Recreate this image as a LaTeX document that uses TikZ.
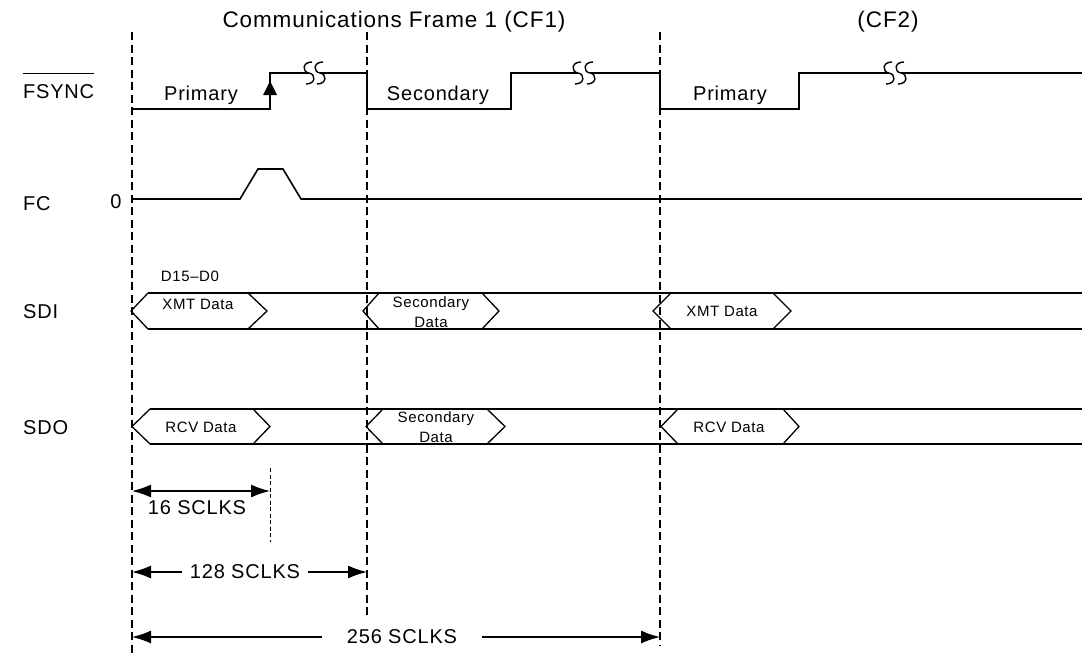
\documentclass[tikz,border=0pt]{standalone}
\usepackage{fontspec}
\setmainfont[LetterSpace=4]{Liberation Sans}
\usetikzlibrary{arrows.meta}
\begin{document}
\begin{tikzpicture}[x=1pt,y=-1pt,
  sig/.style={line width=1.6pt, line join=miter},
  bus/.style={line width=1.3pt},
  framel/.style={line width=1.6pt, dash pattern=on 8pt off 4.5pt},
  dimarrow/.style={line width=1.5pt, {Latex[length=19pt,width=13pt]}-{Latex[length=19pt,width=13pt]}},
  lbl/.style={font=\fontsize{20}{24}\selectfont, anchor=base west, inner sep=0pt},
  ttl/.style={font=\fontsize{22.5}{26}\selectfont, anchor=base, inner sep=0pt},
  phase/.style={font=\fontsize{20}{24}\selectfont, anchor=base, inner sep=0pt},
  hx/.style={font=\fontsize{15}{20}\selectfont, inner sep=0pt, align=center},
  sc/.style={font=\fontsize{20}{24}\selectfont, inner sep=0pt},
  brk/.pic={\draw[line width=1.4pt] (3,-11) .. controls (-7,-11) and (-7,-1) .. (0,0) .. controls (7,1) and (7,11) .. (-3,11);}
]
\useasboundingbox (0,0) rectangle (1082,654);

% frame boundaries
\coordinate (f0t) at (132,32); \coordinate (f0b) at (132,654);
\coordinate (f1t) at (367,32); \coordinate (f1b) at (367,618);
\coordinate (f2t) at (660,32); \coordinate (f2b) at (660,645);
\draw[framel] (f0t) -- (f0b);
\draw[framel] (f1t) -- (f1b);
\draw[framel] (f2t) -- (f2b);

% titles
\node[ttl] (cf1) at (394,27) {Communications Frame 1 (CF1)};
\node[ttl] (cf2) at (888,27) {(CF2)};

% signal labels
\node[lbl] (fs) at (23,98) {FSYNC};
\draw[line width=1.3pt] ([yshift=10pt]fs.north west) -- ([yshift=10pt]fs.north east);
\node[lbl] (fc) at (23,210) {FC};
\node[lbl] (sdi) at (23,318) {SDI};
\node[lbl] (sdo) at (23,434) {SDO};
\node[sc] (zero) at (116,202) {0};

% FSYNC
\draw[sig] (132,109) -- (270,109) -- (270,73) -- (309,73);
\draw[sig] (320,73) -- (367,73) -- (367,109) -- (511,109) -- (511,73) -- (578,73);
\draw[sig] (590,73) -- (660,73) -- (660,109) -- (799,109) -- (799,73) -- (889,73);
\draw[sig] (901,73) -- (1082,73);
\fill (270,81) -- (263,95) -- (277,95) -- cycle;
\pic at (309,73) {brk}; \pic at (320,73) {brk};
\pic at (578,73) {brk}; \pic at (590,73) {brk};
\pic at (889,73) {brk}; \pic at (901,73) {brk};
\node[phase] (p1) at (201,100) {Primary};
\node[phase] (s1) at (438,100) {Secondary};
\node[phase] (p2) at (730,100) {Primary};

% FC
\draw[sig] (132,199) -- (240,199) -- (258,169) -- (283,169) -- (301,199) -- (1082,199);

% SDI
\node[hx] (dd) at (190,276) {D15--D0};
\draw[bus] (148,293) -- (1082,293);
\draw[bus] (148,329) -- (1082,329);
\foreach \a/\b/\c/\d in {131/148/248/267, 363/379/482/499, 653/671/773/791}{
  \draw[bus] (\b,293) -- (\a,311) -- (\b,329);
  \draw[bus] (\c,293) -- (\d,311) -- (\c,329);
}
\node[hx] (xmt1) at (198,304) {XMT Data};
\node[hx] (sec1) at (431,312) {Secondary\\Data};
\node[hx] (xmt2) at (722,311) {XMT Data};

% SDO
\draw[bus] (150,409) -- (1082,409);
\draw[bus] (150,444) -- (1082,444);
\foreach \a/\b/\c/\d in {132/150/253/270, 366/383/487/505, 661/678/783/799}{
  \draw[bus] (\b,409) -- (\a,426.5) -- (\b,444);
  \draw[bus] (\c,409) -- (\d,426.5) -- (\c,444);
}
\node[hx] (rcv1) at (201,427) {RCV Data};
\node[hx] (sec2) at (436,427) {Secondary\\Data};
\node[hx] (rcv2) at (729,427) {RCV Data};

% dimensions
\coordinate (a16) at (132,491); \coordinate (b16) at (270,491);
\coordinate (m16t) at (270,468); \coordinate (m16b) at (270,542);
\draw[line width=1pt, dash pattern=on 4pt off 2.5pt] (m16t) -- (m16b);
\draw[dimarrow] (a16) -- (b16);
\node[sc] (l16) at (197,508) {16 SCLKS};

\coordinate (a128) at (132,572); \coordinate (b128) at (367,572);
\draw[dimarrow] (a128) -- (b128);
\node[sc, fill=white, inner xsep=8pt, inner ysep=2pt] (l128) at (245,572) {128 SCLKS};

\coordinate (a256) at (132,637); \coordinate (b256) at (660,637);
\draw[dimarrow] (a256) -- (b256);
\node[sc, fill=white, inner xsep=25pt, inner ysep=2pt] (l256) at (402,637) {256 SCLKS};
\end{tikzpicture}
\end{document}
